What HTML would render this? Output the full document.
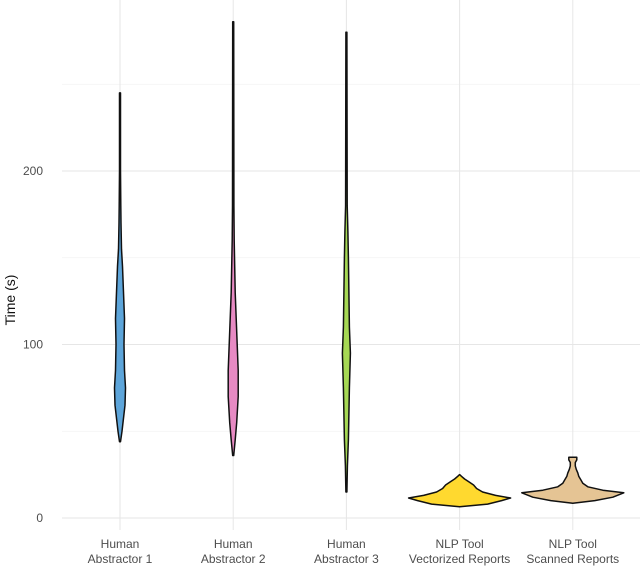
<!DOCTYPE html>
<html><head><meta charset="utf-8"><style>
html,body{margin:0;padding:0;background:#fff;}
svg{display:block;font-family:"Liberation Sans",sans-serif;}
</style></head><body>
<svg id="chart" width="640" height="567" viewBox="0 0 640 567">
<g id="grid"></g>
<g id="violins"></g>
<g id="axes"></g>
<text transform="translate(15,300) rotate(-90)" text-anchor="middle" font-size="14" fill="#111">Time (s)</text>
</svg>
<script>
const categories = ["Human\nAbstractor 1","Human\nAbstractor 2","Human\nAbstractor 3","NLP Tool\nVectorized Reports","NLP Tool\nScanned Reports"];
const colors = ["#5DA5DA","#E78AC3","#A6D854","#FFD92F","#E5C494"];
const yTicks = [0,100,200];
const yMinor = [50,150,250];
// density profiles: values (s) and relative half-widths
const values1 = [44,50,55,65,75,85,100,115,130,145,155,170,180,200,245];
const width1 = [0.5,2,3,5,5.5,4.5,4,4.5,3.5,2.5,1.5,1,0.8,0.5,0.5];
const values2 = [36,45,55,70,85,100,115,130,145,160,180,286];
const width2 = [0.5,2,3.5,5,5,4,3,2,1.5,1,0.7,0.5];
const values3 = [15,30,45,60,75,95,110,130,150,165,180,280];
const width3 = [0.5,1,2,2.5,3,4,3,2.5,2,1.5,0.8,0.5];
const values4 = [6.5,8,10,11.5,13,15,17,19,21,22.5,24,25];
const width4 = [0,28,42,51,36,23,17,14,9,5,2,0];
const values5 = [8.5,10,12,14.5,16,18,20,22,24,26,28,30,32,33.5,35];
const width5 = [0,22,40,51,30,15,10,8,6,5,3.5,2.5,2.5,4,4];
const seriesValues = [values1,values2,values3,values4,values5];
const seriesWidths = [width1,width2,width3,width4,width5];

const NS="http://www.w3.org/2000/svg";
const y = v => 518 - v*1.735;
const x = i => 120 + i*113.2;
const grid=document.getElementById('grid'), vg=document.getElementById('violins'), ax=document.getElementById('axes');
function mk(tag,attrs,parent){const e=document.createElementNS(NS,tag);for(const k in attrs)e.setAttribute(k,attrs[k]);parent.appendChild(e);return e;}
yMinor.forEach(v=>{
  const l=mk('line',{x1:62,x2:640,y1:y(v),y2:y(v),stroke:'#f2f2f2','stroke-width':0.8},grid);
  
  
});
yTicks.forEach(v=>{
  const l=mk('line',{x1:62,x2:640,y1:y(v),y2:y(v),stroke:'#e6e6e6','stroke-width':1},grid);
  
  
  const t=mk('text',{x:43,y:y(v)+4,'text-anchor':'end','font-size':12,fill:'#4d4d4d'},ax);
  t.textContent=v;
  
  
});
categories.forEach((c,i)=>{
  const l=mk('line',{x1:x(i),x2:x(i),y1:0,y2:530,stroke:'#e6e6e6','stroke-width':1},grid);
  
  
  const parts=c.split('\n');
  parts.forEach((p,j)=>{
    const t=mk('text',{x:x(i),y:548+j*15,'text-anchor':'middle','font-size':12,fill:'#4d4d4d'},ax);
    t.textContent=p;
    
    
  });
  const vs=seriesValues[i], ws=seriesWidths[i], cx=x(i);
  let right=vs.map((v,k)=>[cx+ws[k],y(v)]);
  let left=vs.map((v,k)=>[cx-ws[k],y(v)]).reverse();
  const pts=right.concat(left).map(p=>p[0].toFixed(1)+','+p[1].toFixed(1)).join(' ');
  const poly=mk('polygon',{points:pts,fill:colors[i],stroke:'#111','stroke-width':1.5,'stroke-linejoin':'round'},vg);
  
  
});
</script>
</body></html>
